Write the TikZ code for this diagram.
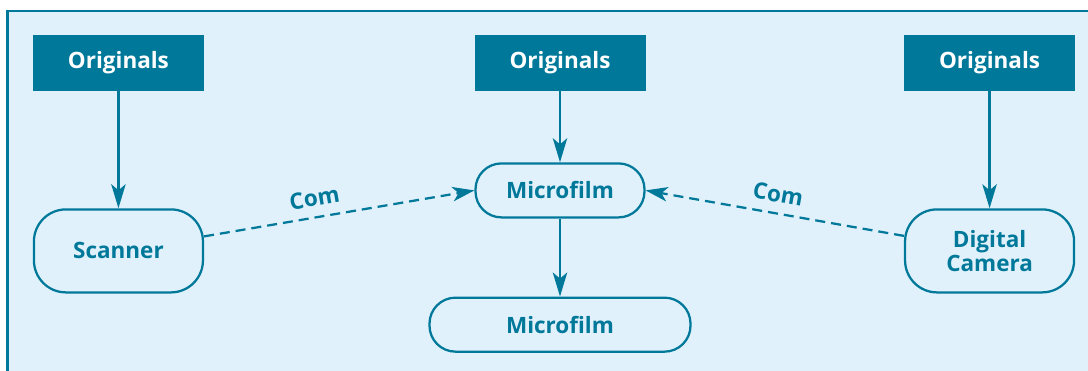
\documentclass[tikz,border=0pt]{standalone}
\usepackage{fontspec}
\setmainfont{Open Sans}
\usepackage{tikz}
\usetikzlibrary{arrows.meta,positioning}
\definecolor{TealColor}{HTML}{00789A}
\definecolor{PanelBlue}{HTML}{E0F1FB}

\begin{document}
\begin{tikzpicture}[node distance=1.8cm,
  srcbox/.style={fill=TealColor,text=white,font=\fontsize{16}{19}\selectfont\bfseries,minimum width=4.275cm,minimum height=1.4cm,inner sep=0pt},
  devbox/.style={draw=TealColor,line width=1.6pt,rounded corners=0.8cm,text=TealColor,font=\fontsize{16}{19}\selectfont\bfseries,align=center,minimum width=4.225cm,minimum height=2.075cm,inner sep=0pt},
  filmbox/.style={devbox,rounded corners=0.65cm,minimum height=1.35cm},
  flow/.style={TealColor,line width=1.6pt,-{Stealth[length=0.6cm,width=0.36cm,inset=0.15cm]}},
  comflow/.style={flow,dash pattern=on 0.25cm off 0.15cm,-{Stealth[length=0.55cm,width=0.36cm,inset=0.15cm]}},
  comlabel/.style={text=TealColor,font=\fontsize{16}{19}\selectfont\bfseries,sloped,above=6pt,inner sep=1pt}]
  \clip (0,0) rectangle (27.2,-9.275);
  \draw[TealColor,line width=1.6pt,fill=PanelBlue] (0.1875,-0.275) rectangle (27.6,-9.6);
  % top row
  \node[srcbox] (origM) at (14,-1.575) {Originals};
  \node[srcbox,left=6.75cm of origM] (origL) {Originals};
  \node[srcbox,right=6.45cm of origM] (origR) {Originals};
  % devices
  \node[devbox,below=2.925cm of origL] (scan) {Scanner};
  \node[filmbox,below=1.775cm of origM] (film) {Microfilm};
  \node[filmbox,minimum width=6.525cm,below=1.95cm of film] (filmcopy) {Microfilm};
  \node[devbox,below=2.925cm of origR] (cam) {Digital\\[-2pt]Camera};
  \draw[flow] (origL) -- (scan);
  \draw[flow] (origM) -- (film);
  \draw[flow] (film) -- (filmcopy);
  \draw[flow] (origR) -- (cam);
  \draw[comflow] (scan) -- (film.west) node[comlabel,pos=0.42]{Com};
  \draw[comflow] (cam) -- (film.east) node[comlabel,pos=0.5]{Com};
\end{tikzpicture}
\end{document}
